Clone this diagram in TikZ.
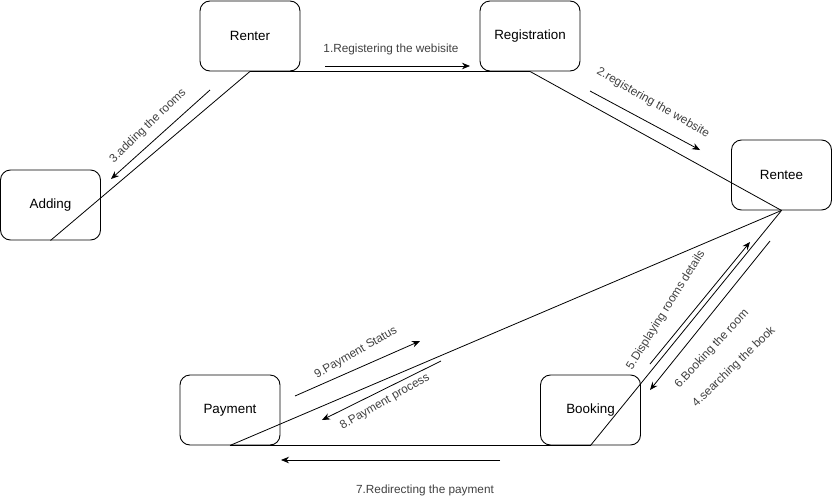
\documentclass[tikz,border=0pt]{standalone}
\usepackage{fontspec}
\setmainfont{Liberation Sans}
\usetikzlibrary{arrows.meta}
\begin{document}
\begin{tikzpicture}[x=1pt,y=-1pt,
  box/.style={draw,line width=0.9pt,rounded corners=10pt,minimum width=100pt,minimum height=70pt,inner sep=0pt,font=\fontsize{13.4}{15}\selectfont},
  conn/.style={draw,line width=0.8pt},
  flow/.style={draw,line width=0.8pt,-{Stealth[length=8pt,width=6.5pt]}},
  lbl/.style={text=black!75,font=\fontsize{11.8}{13}\selectfont,inner sep=0pt}]
\useasboundingbox (0,0) rectangle (833,501);
\node[box] (renter) at (250,36) {Renter};
\node[box] (reg) at (530,36) {Registration};
\node[box] (adding) at (50.5,205) {Adding};
\node[box] (rentee) at (781.5,175) {Rentee};
\node[box] (payment) at (230,410) {Payment};
\node[box] (booking) at (590.5,410) {Booking};

\draw[conn] (renter.south) -- (reg.south);
\draw[conn] (renter.south) -- (adding.south);
\draw[conn] (reg.south) -- (rentee.south);
\draw[conn] (rentee.south) -- (payment.south);
\draw[conn] (rentee.south) -- (booking.south);
\draw[conn] (payment.south) -- (booking.south);

\coordinate (a1s) at (325,66); \coordinate (a1e) at (470,66);
\coordinate (a2s) at (590,91); \coordinate (a2e) at (700,150);
\coordinate (a3s) at (210,90); \coordinate (a3e) at (111,179);
\coordinate (a5s) at (650,364); \coordinate (a5e) at (750,242);
\coordinate (a6s) at (770,241); \coordinate (a6e) at (650,390);
\coordinate (a9s) at (295,396); \coordinate (a9e) at (420,341);
\coordinate (a8s) at (441,361); \coordinate (a8e) at (322,420);
\coordinate (a7s) at (500,460); \coordinate (a7e) at (281,460);

\draw[flow] (a1s) -- (a1e);
\draw[flow] (a2s) -- (a2e);
\draw[flow] (a3s) -- (a3e);
\draw[flow] (a5s) -- (a5e);
\draw[flow] (a6s) -- (a6e);
\draw[flow] (a9s) -- (a9e);
\draw[flow] (a8s) -- (a8e);
\draw[flow] (a7s) -- (a7e);

\node[lbl] (l1) at (391,49) {1.Registering the webisite};
\node[lbl,rotate=-30] (l2) at (653,103) {2.registering the website};
\node[lbl,rotate=44] (l3) at (148,126) {3.adding the rooms};
\node[lbl,rotate=58] (l5) at (666,310) {5.Displaying rooms details};
\node[lbl,rotate=47] (l6) at (712,349) {6.Booking the room};
\node[lbl,rotate=44] (l4) at (734,367) {4.searching the book};
\node[lbl,rotate=30] (l9) at (356,353) {9.Payment Status};
\node[lbl,rotate=30] (l8) at (385,402) {8.Payment process};
\node[lbl] (l7) at (425,490) {7.Redirecting the payment};
\end{tikzpicture}
\end{document}
